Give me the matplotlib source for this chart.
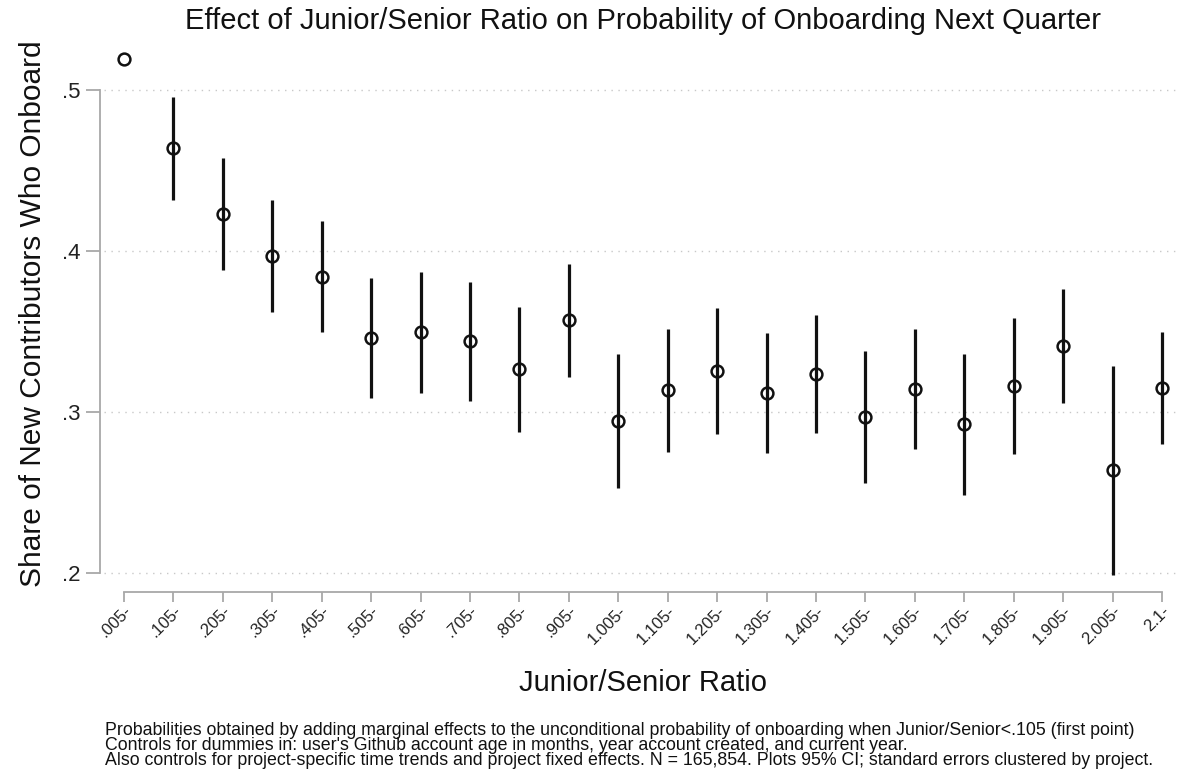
import matplotlib
matplotlib.use("Agg")
import matplotlib.pyplot as plt
import numpy as np

categories = [".005-", ".105-", ".205-", ".305-", ".405-", ".505-", ".605-", ".705-",
              ".805-", ".905-", "1.005-", "1.105-", "1.205-", "1.305-", "1.405-",
              "1.505-", "1.605-", "1.705-", "1.805-", "1.905-", "2.005-", "2.1-"]
estimates = [0.5194, 0.4640, 0.4230, 0.3971, 0.3838, 0.3461, 0.3498, 0.3440,
             0.3266, 0.3569, 0.2947, 0.3136, 0.3254, 0.3117, 0.3237, 0.2970,
             0.3146, 0.2924, 0.3162, 0.3411, 0.2640, 0.3150]
ci_upper = [np.nan, 0.4953, 0.4576, 0.4319, 0.4187, 0.3832, 0.3869, 0.3807,
            0.3652, 0.3921, 0.3359, 0.3517, 0.3644, 0.3492, 0.3604, 0.3380,
            0.3519, 0.3361, 0.3585, 0.3766, 0.3289, 0.3498]
ci_lower = [np.nan, 0.4315, 0.3884, 0.3623, 0.3496, 0.3088, 0.3121, 0.3072,
            0.2876, 0.3216, 0.2532, 0.2750, 0.2862, 0.2744, 0.2868, 0.2562,
            0.2769, 0.2487, 0.2739, 0.3055, 0.1989, 0.2800]
yticks = [0.2, 0.3, 0.4, 0.5]
ytick_labels = [".2", ".3", ".4", ".5"]

title = "Effect of Junior/Senior Ratio on Probability of Onboarding Next Quarter"
xlabel = "Junior/Senior Ratio"
ylabel = "Share of New Contributors Who Onboard"
notes = ["Probabilities obtained by adding marginal effects to the unconditional probability of onboarding when Junior/Senior<.105 (first point)",
         "Controls for dummies in: user's Github account age in months, year account created, and current year.",
         "Also controls for project-specific time trends and project fixed effects. N = 165,854. Plots 95% CI; standard errors clustered by project."]

plt.rcParams['font.family'] = ['Liberation Sans', 'DejaVu Sans']

W, H = 1181, 775
fig = plt.figure(figsize=(W / 100, H / 100), dpi=100)
ax_left, ax_right, ax_top, ax_bottom = 100, 1180, 38, 592
ax = fig.add_axes([ax_left / W, 1 - ax_bottom / H, (ax_right - ax_left) / W, (ax_bottom - ax_top) / H])

x = np.arange(len(categories))
est = np.array(estimates)
lo = np.array(ci_lower)
hi = np.array(ci_upper)

ax.vlines(x, lo, hi, color="#111111", lw=2.3, zorder=3)
ax.plot(x, est, linestyle="none", marker="o", markersize=8.5, markerfacecolor="none",
        markeredgecolor="#111111", markeredgewidth=1.8, zorder=4)

ax.set_xlim(-0.486, 21.364)
ax.set_ylim(0.1884, 0.5322)

ax.set_yticks(yticks)
ax.set_yticklabels(ytick_labels, fontsize=16, color="#222222")
ax.set_xticks(x)
ax.set_xticklabels(categories, fontsize=12, rotation=45, ha="right", va="top",
                   rotation_mode="anchor", color="#222222")
ax.tick_params(axis="y", length=10, width=1.3, color="#a8a8a8", pad=4)
ax.tick_params(axis="x", length=7, width=1.3, color="#a8a8a8", pad=1)

for s in ["top", "right"]:
    ax.spines[s].set_visible(False)
ax.spines["left"].set_bounds(0.2, 0.5)
ax.spines["bottom"].set_bounds(0, 21)
for s in ["left", "bottom"]:
    ax.spines[s].set_color("#a8a8a8")
    ax.spines[s].set_linewidth(1.3)

for yv in yticks:
    ax.axhline(yv, xmin=0.004, xmax=1.0, color="#c8c8c8", lw=1.0, linestyle=(0, (1, 4)), zorder=1)

fig.text(643 / W, 1 - 21 / H, title, fontsize=21, ha="center", va="center", color="#111111")
fig.text(643 / W, 1 - 683 / H, xlabel, fontsize=21, ha="center", va="center", color="#111111")
fig.text(33 / W, 1 - 314 / H, ylabel, fontsize=21.5, ha="center", va="center", rotation=90, color="#111111")
fig.text(105 / W, 1 - 722 / H, "\n".join(notes), fontsize=12.8, ha="left", va="top",
         color="#111111", linespacing=0.86)

fig.savefig("out.png", dpi=100, facecolor="white")
